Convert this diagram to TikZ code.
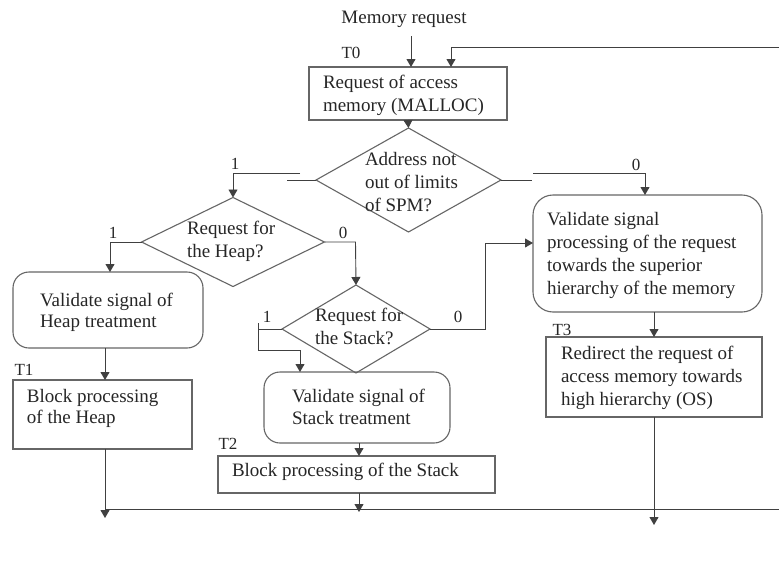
\documentclass[tikz,border=0pt]{standalone}
\usepackage{fontspec}
\setmainfont{Liberation Serif}
\usetikzlibrary{shapes.geometric,arrows.meta}
\begin{document}
\begin{tikzpicture}[x=1pt,y=-1pt,
  every node/.style={inner sep=0pt,outer sep=0pt},
  txt/.style={font=\fontsize{19}{23}\selectfont, text=black!85, align=left, anchor=west},
  tag/.style={font=\fontsize{17}{20}\selectfont, text=black!85},
  box/.style={draw=black!60, line width=1.1pt},
  rbox/.style={box, rounded corners=16pt},
  dia/.style={draw=black!60, line width=1.1pt, diamond},
  wire/.style={draw=black!75, line width=0.9pt},
  flow/.style={wire, -{Triangle[length=8pt,width=9pt]}}
]
\useasboundingbox (0,0) rectangle (779,573);
\fill[white] (0,0) rectangle (779,573);

% ---- shapes ----
\node[box, minimum width=198pt, minimum height=53pt] (t0) at (408,93.5) {};
\node[dia, minimum width=185pt, minimum height=104pt] (d1) at (408.5,180) {};
\node[dia, minimum width=183pt, minimum height=89pt] (d2) at (233,242) {};
\node[dia, minimum width=148pt, minimum height=88pt] (d3) at (356,329) {};
\node[rbox, minimum width=190pt, minimum height=76pt] (heap) at (108,310) {};
\node[box, minimum width=179pt, minimum height=69pt] (t1) at (102.5,414.5) {};
\node[rbox, minimum width=186pt, minimum height=71pt] (stack) at (357,407.5) {};
\node[box, minimum width=277pt, minimum height=37pt] (t2) at (356.5,474.5) {};
\node[rbox, rounded corners=20pt, minimum width=229pt, minimum height=117pt] (sup) at (647.5,253.5) {};
\node[box, minimum width=216pt, minimum height=80pt] (t3) at (654,377) {};

% ---- texts ----
\node[txt, anchor=center] (mreq) at (404,19) {Memory request};
\node[tag] (l0) at (351,53) {T0};
\node[txt] (t0txt) at (323,95) {Request of access\\memory (MALLOC)};
\node[txt] (d1txt) at (365,182) {Address not\\out of limits\\of SPM?};
\node[txt] (d2txt) at (187,241) {Request for\\the Heap?};
\node[txt] (d3txt) at (315,326) {Request for\\the Stack?};
\node[txt, font=\fontsize{19}{21}\selectfont] (heaptxt) at (40,312) {Validate signal of\\Heap treatment};
\node[tag] (l1) at (24,370) {T1};
\node[txt, font=\fontsize{19}{21}\selectfont] (t1txt) at (27,408) {Block processing\\of the Heap};
\node[txt, font=\fontsize{19}{22}\selectfont] (stacktxt) at (292,407) {Validate signal of\\Stack treatment};
\node[tag] (l2) at (228,444) {T2};
\node[txt] (t2txt) at (232,472) {Block processing of the Stack};
\node[txt] (suptxt) at (547,255) {Validate signal\\processing of the request\\towards the superior\\hierarchy of the memory};
\node[tag] (l3) at (562,330) {T3};
\node[txt] (t3txt) at (561,378) {Redirect the request of\\access memory towards\\high hierarchy (OS)};

\node[tag] (y1) at (235,164) {1};
\node[tag] (n1) at (636,165) {0};
\node[tag] (y2) at (113,233) {1};
\node[tag] (n2) at (343,233) {0};
\node[tag] (y3) at (267,317) {1};
\node[tag] (n3) at (458,317) {0};

% ---- bend points ----
\coordinate (mr) at (411,36);
\coordinate (fbR) at (779,47);
\coordinate (fb) at (451,47);
\coordinate (a1) at (287,180);
\coordinate (a2) at (300,173);
\coordinate (a3) at (233,173);
\coordinate (b1) at (532,180);
\coordinate (b2) at (533,173);
\coordinate (b3) at (645,173);
\coordinate (c1) at (110,242);
\coordinate (c2) at (355.5,242);
\coordinate (e1) at (258,329);
\coordinate (e2) at (258,323);
\coordinate (e3) at (258,350);
\coordinate (e4) at (300,350);
\coordinate (g1) at (485,329);
\coordinate (g2) at (485,243);
\coordinate (h1) at (105,518);
\coordinate (h2) at (359,512);
\coordinate (h3) at (654,525);
\coordinate (busL) at (105,509);
\coordinate (busR) at (779,509);

% ---- connectors ----
\draw[flow] (mr) -- (mr |- t0.north);
\draw[flow] (fbR) -- (fb) -- (fb |- t0.north);
\draw[flow] (t0.south) -- (d1.north);

\draw[wire] (d1.west) -- (a1);
\draw[flow] (a2) -- (a3) -- (d2.north);
\draw[wire] (d1.east) -- (b1);
\draw[flow] (b2) -- (b3) -- (b3 |- sup.north);

\draw[flow] (d2.west) -- (c1) -- (c1 |- heap.north);
\draw[flow] (d2.east) -- (c2) -- (d3.north);

\draw[wire] (d3.west) -- (e1);
\draw[flow] (e2) -- (e3) -- (e4) -- (e4 |- stack.north);
\draw[flow] (d3.east) -- (g1) -- (g2) -- (g2 -| sup.west);

\draw[flow] (h1 |- heap.south) -- (h1 |- t1.north);
\draw[flow] (h1 |- t1.south) -- (h1);
\draw[flow] (h2 |- stack.south) -- (h2 |- t2.north);
\draw[flow] (h2 |- t2.south) -- (h2);
\draw[flow] (h3 |- sup.south) -- (h3 |- t3.north);
\draw[flow] (h3 |- t3.south) -- (h3);
\draw[wire] (busL) -- (busR);
\end{tikzpicture}
\end{document}
